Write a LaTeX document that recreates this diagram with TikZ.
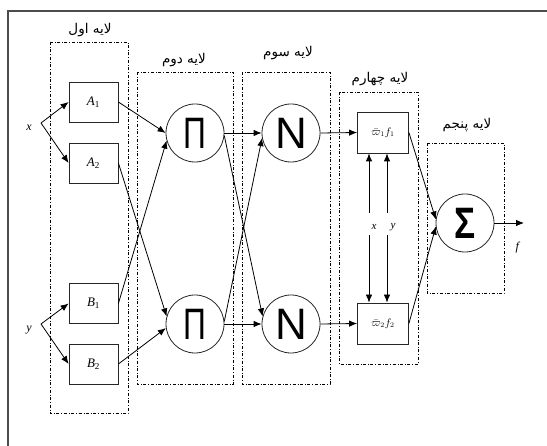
\documentclass[tikz,border=0pt]{standalone}
\usepackage{fontspec}
\usepackage{amsmath}
\usepackage{graphicx}
\usetikzlibrary{arrows.meta}
\setmainfont{Liberation Serif}
\newfontfamily\farsi[Script=Arabic]{DejaVu Sans}
\newfontfamily\symsans{Liberation Sans}
\TeXXeTstate=1

\begin{document}
\begin{tikzpicture}[x=1pt, y=-1pt, inner sep=0pt,
		>={Latex[length=8pt,width=6.5pt]},
		box/.style={draw, line width=0.8pt, black!85, text=black, minimum width=49pt, minimum height=40pt, font=\fontsize{13}{13}\selectfont},
		unit/.style={draw, line width=0.8pt, black!85, text=black, circle, minimum size=58pt, font=\symsans\fontsize{44}{44}\selectfont},
		layer/.style={draw, dash dot, line width=0.7pt},
		layertext/.style={font=\farsi\fontsize{13.5}{15}\selectfont},
		conn/.style={->, line width=0.8pt}]
		\useasboundingbox (0,0) rectangle (547,446);
		\tikzstyle{every node}=[align=center]
			% frame
			\draw[line width=1.2pt, black!70] (547,11) -- (8,11) -- (8,446);

			% layers
			\draw[layer] (50,42) rectangle (128,413);
			\draw[layer] (137,72) rectangle (233,384);
			\draw[layer] (242,72) rectangle (330,384);
			\draw[layer] (339,92) rectangle (418,364);
			\draw[layer] (427,143) rectangle (504,293);
			\node[layertext] (l1) at (90,30) {\beginR لایه اول\endR};
			\node[layertext] (l2) at (184,60) {\beginR لایه دوم\endR};
			\node[layertext] (l3) at (288,53) {\beginR لایه سوم\endR};
			\node[layertext] (l4) at (380,79) {\beginR لایه چهارم\endR};
			\node[layertext] (l5) at (467,125) {\beginR لایه پنجم\endR};

			% inputs
			\node (xin) at (29,128) {\fontsize{12}{12}\selectfont\textit{x}};
			\node (yin) at (29,330) {\fontsize{12}{12}\selectfont\textit{y}};
			\coordinate (xs) at (41,123);
			\coordinate (ys) at (41,324);

			\node[box] (a1) at (93.5,102) {\textit{A}\textsubscript{1}};
			\node[box] (a2) at (93.5,163) {\textit{A}\textsubscript{2}};
			\node[box] (b1) at (93.5,303.5) {\textit{B}\textsubscript{1}};
			\node[box] (b2) at (93.5,364) {\textit{B}\textsubscript{2}};

			\node[unit] (pi1) at (195,133) {\scalebox{0.72}[1]{Π}};
			\node[unit] (pi2) at (195,324) {\scalebox{0.72}[1]{Π}};
			\node[unit] (n1) at (291,133) {N};
			\node[unit] (n2) at (291,324) {N};

			\node[box, minimum width=51pt, minimum height=41pt, font=\fontsize{10.5}{10.5}\selectfont] (w1) at (383,132.5) {$\bar{\varpi}_1 f_1$};
			\node[box, minimum width=51pt, minimum height=41pt, font=\fontsize{10.5}{10.5}\selectfont] (w2) at (383,323.5) {$\bar{\varpi}_2 f_2$};

			\node[unit] (sig) at (465,223) {\scalebox{0.8}[1]{\bfseries Σ}};
			\coordinate (out) at (524,223);
			\node (fout) at (518,248) {\fontsize{12}{12}\selectfont\textit{f}};

			% x and y into layer 4
			\coordinate (xt) at (369,213);
			\coordinate (xb) at (369,235);
			\coordinate (yt) at (387,213);
			\coordinate (yb) at (387,235);
			\node (xw) at (374,227) {\fontsize{11}{11}\selectfont\textit{x}};
			\node (yw) at (393,227) {\fontsize{11}{11}\selectfont\textit{y}};

			\draw[conn] (xs) -- (a1.west);
			\draw[conn] (xs) -- (a2.west);
			\draw[conn] (ys) -- (b1.west);
			\draw[conn] (ys) -- (b2.west);

			\draw[conn] (a1.east) -- (pi1.west);
			\draw[conn] (b1.east) -- (pi1.195);
			\draw[conn] (a2.east) -- (pi2.165);
			\draw[conn] (b2.east) -- (pi2.188);

			\draw[conn] (pi1.east) -- (n1.west);
			\draw[conn] (pi1.-5) -- (n2.165);
			\draw[conn] (pi2.east) -- (n2.west);
			\draw[conn] (pi2.5) -- (n1.190);

			\draw[conn] (n1.east) -- (w1.west);
			\draw[conn] (n2.east) -- (w2.west);

			\draw[conn] (xt) -- (xt |- w1.south);
			\draw[conn] (yt) -- (yt |- w1.south);
			\draw[conn] (xb) -- (xb |- w2.north);
			\draw[conn] (yb) -- (yb |- w2.north);

			\draw[conn] (w1.east) -- (sig.173);
			\draw[conn] (w2.east) -- (sig.187);
			\draw[conn] (sig.east) -- (out);
		\end{tikzpicture}
\end{document}
